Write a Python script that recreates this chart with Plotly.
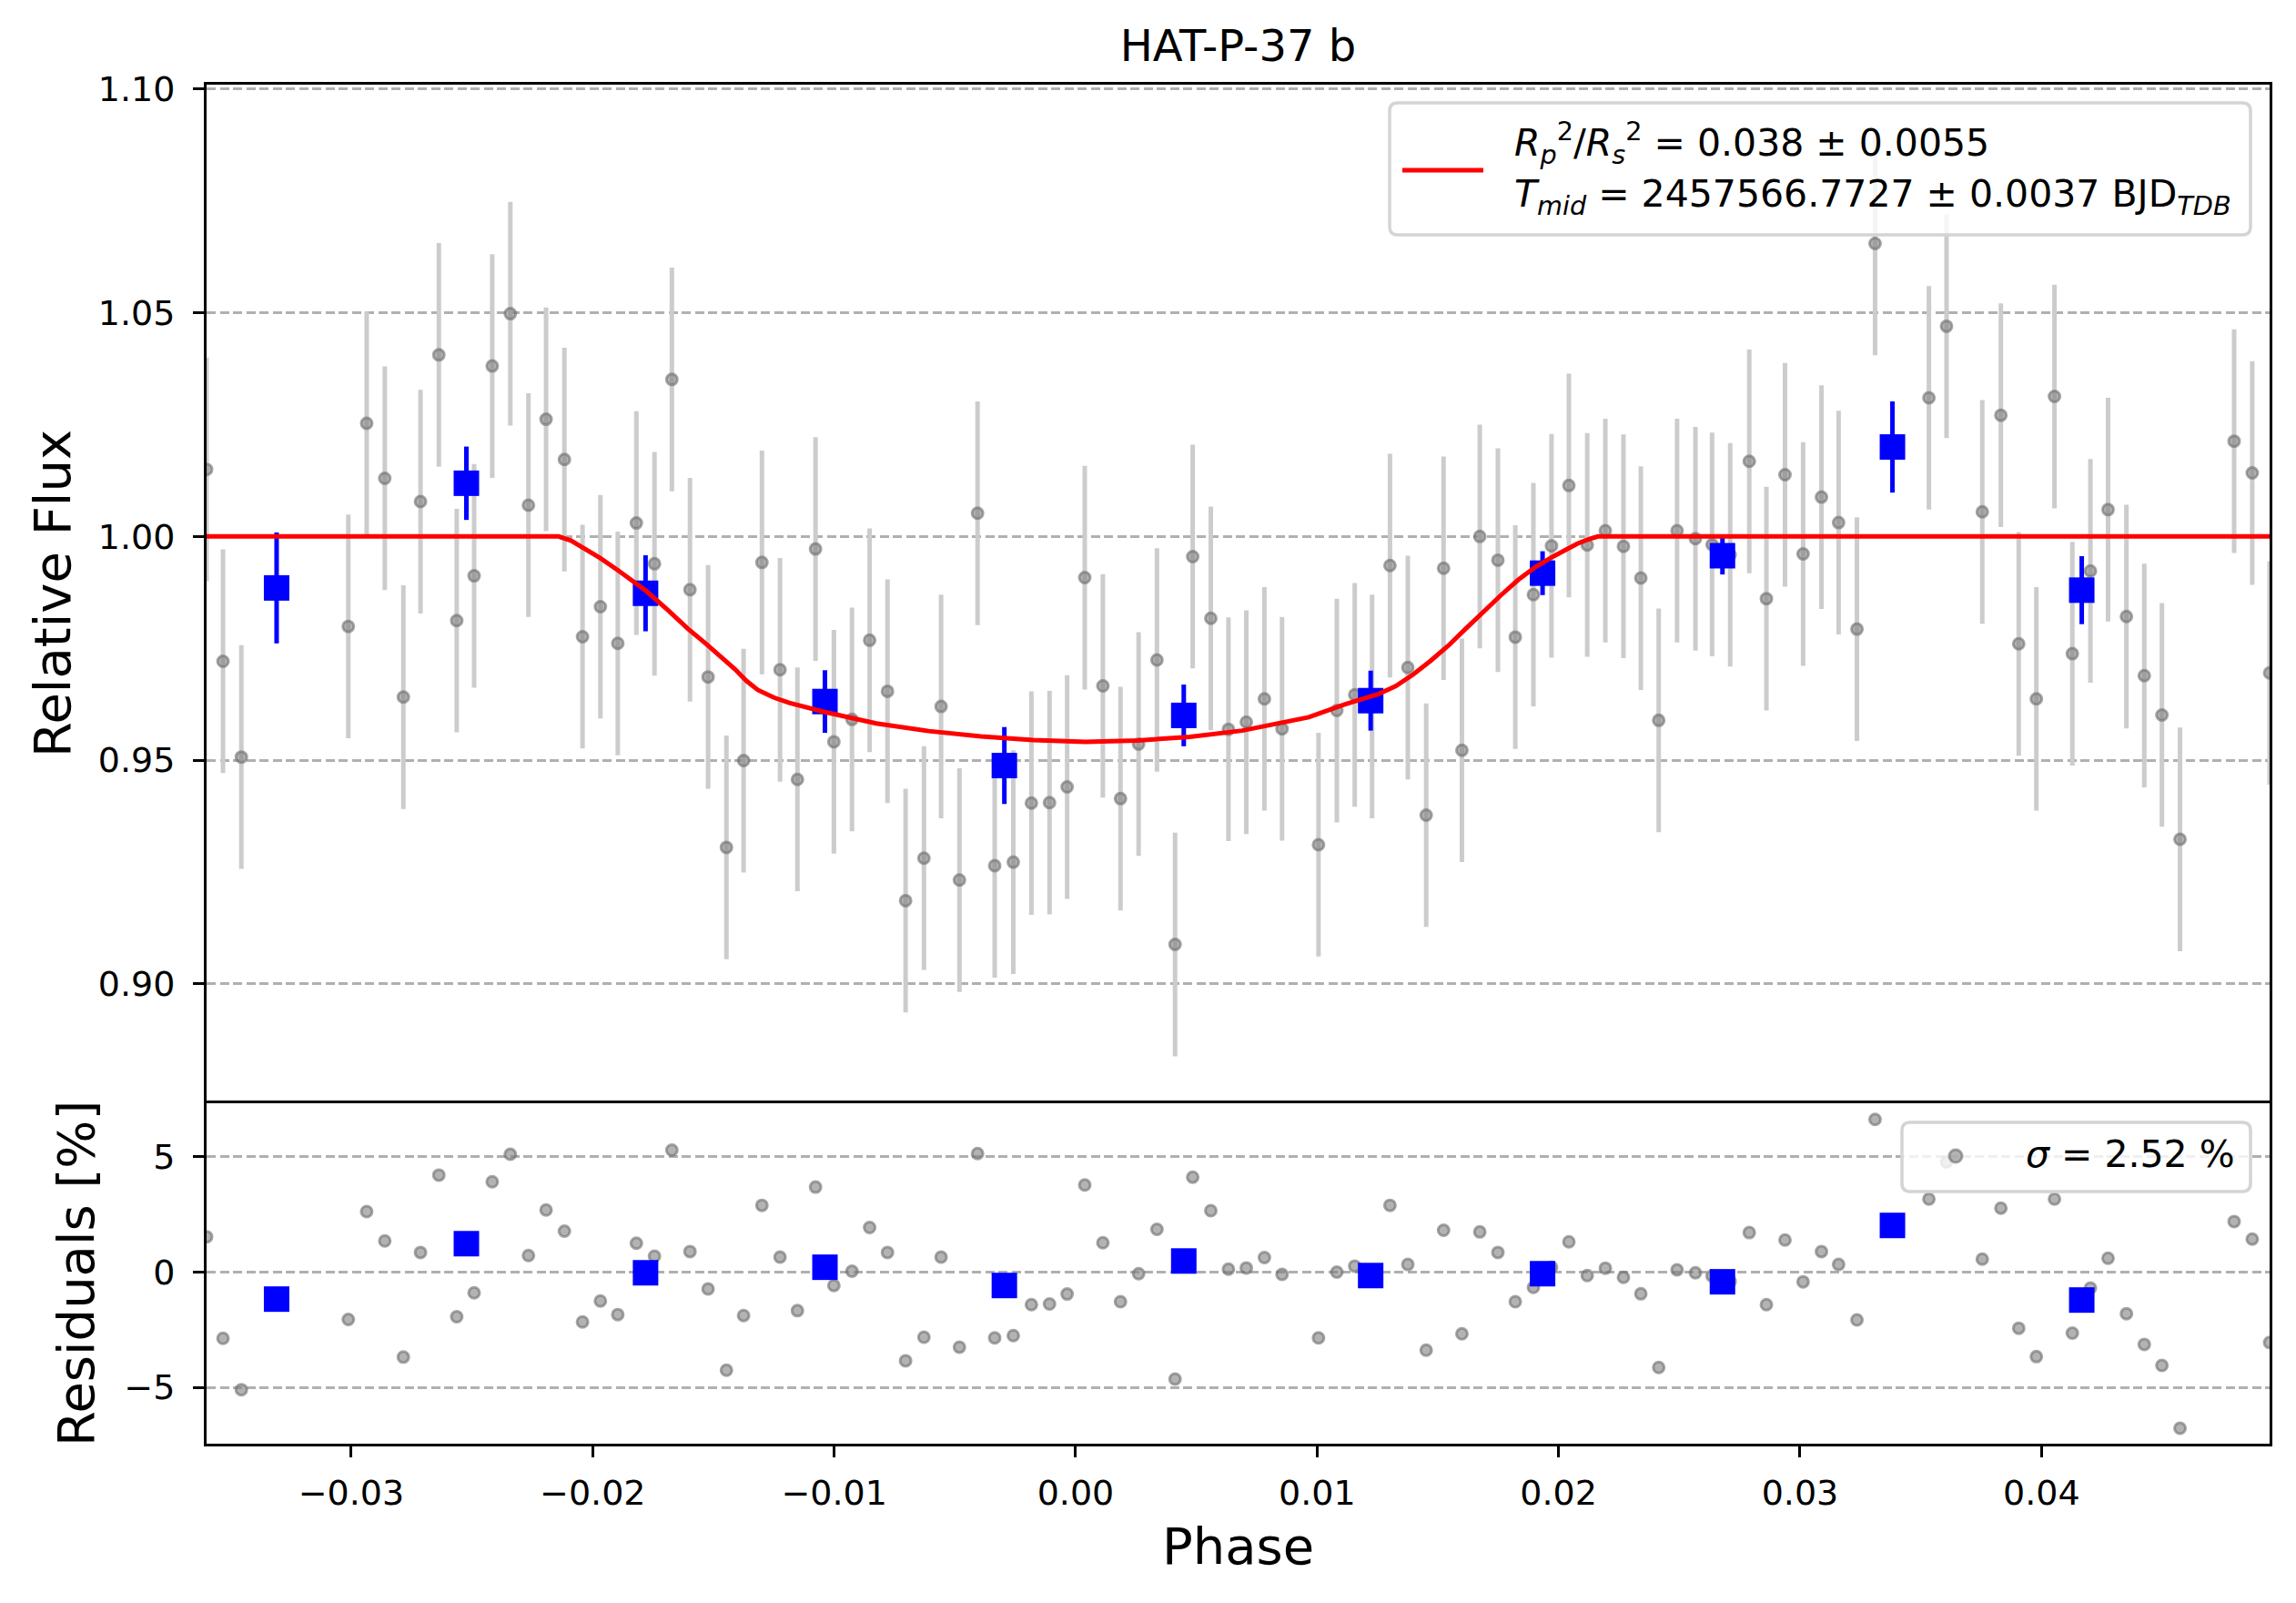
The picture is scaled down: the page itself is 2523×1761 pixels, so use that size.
import plotly.graph_objects as go

# ---- unbinned light-curve points (phase, relative flux, error, residual %) ----
phase = [-0.03599, -0.03531, -0.03455, -0.03012, -0.02936, -0.02861, -0.02784, -0.02713,
         -0.02637, -0.02563, -0.02491, -0.02416, -0.02341, -0.02266, -0.02193, -0.02117,
         -0.02042, -0.01968, -0.01896, -0.01819, -0.01744, -0.01672, -0.01597, -0.01522,
         -0.01446, -0.01375, -0.01299, -0.01224, -0.01152, -0.01077, -0.01001, -0.00926,
         -0.00853, -0.00779, -0.00704, -0.00628, -0.00557, -0.00481, -0.00406, -0.00335,
         -0.00258, -0.00183, -0.00108, -0.00035, 0.00038, 0.00113, 0.00186, 0.00261,
         0.00337, 0.00412, 0.00485, 0.00560, 0.00633, 0.00707, 0.00782, 0.00855,
         0.01006, 0.01082, 0.01156, 0.01228, 0.01302, 0.01376, 0.01452, 0.01524,
         0.01600, 0.01674, 0.01749, 0.01821, 0.01896, 0.01971, 0.02043, 0.02119,
         0.02194, 0.02269, 0.02341, 0.02415, 0.02491, 0.02567, 0.02636, 0.02711,
         0.02790, 0.02861, 0.02938, 0.03013, 0.03089, 0.03160, 0.03236, 0.03311,
         0.03534, 0.03607, 0.03755, 0.03832, 0.03906, 0.03979, 0.04054, 0.04128,
         0.04203, 0.04276, 0.04352, 0.04426, 0.04499, 0.04574, 0.04798, 0.04873,
         0.04945]

flux = [1.0150, 0.9721, 0.9507, 0.9799, 1.0253, 1.0130, 0.9641, 1.0078,
        1.0406, 0.9812, 0.9912, 1.0381, 1.0498, 1.0070, 1.0262, 1.0172,
        0.9776, 0.9843, 0.9761, 1.0030, 0.9939, 1.0351, 0.9881, 0.9686,
        0.9305, 0.9499, 0.9942, 0.9702, 0.9457, 0.9972, 0.9541, 0.9591,
        0.9768, 0.9654, 0.9186, 0.9281, 0.9620, 0.9232, 1.0052, 0.9264,
        0.9272, 0.9404, 0.9405, 0.9440, 0.9908, 0.9666, 0.9414, 0.9536,
        0.9724, 0.9088, 0.9955, 0.9817, 0.9569, 0.9585, 0.9637, 0.9570,
        0.9311, 0.9611, 0.9646, 0.9620, 0.9935, 0.9707, 0.9377, 0.9929,
        0.9522, 1.0000, 0.9947, 0.9775, 0.9870, 0.9979, 1.0114, 0.9981,
        1.0013, 0.9978, 0.9907, 0.9589, 1.0013, 0.9995, 0.9982, 0.9959,
        1.0168, 0.9861, 1.0138, 0.9961, 1.0088, 1.0031, 0.9793, 1.0655,
        1.0310, 1.0470, 1.0055, 1.0271, 0.9760, 0.9637, 1.0313, 0.9738,
        0.9923, 1.0060, 0.9821, 0.9689, 0.9601, 0.9323, 1.0213, 1.0142,
        0.9695]

flux_err = [0.025] * len(phase)

residual = [1.52, -2.88, -5.10, -2.06, 2.61, 1.34, -3.69, 0.84,
            4.19, -1.94, -0.91, 3.90, 5.09, 0.71, 2.68, 1.76,
            -2.17, -1.26, -1.85, 1.24, 0.68, 5.27, 0.88, -0.74,
            -4.26, -1.89, 2.88, 0.64, -1.68, 3.67, -0.59, 0.03,
            1.92, 0.84, -3.85, -2.83, 0.64, -3.26, 5.12, -2.86,
            -2.76, -1.42, -1.39, -0.96, 3.76, 1.26, -1.29, -0.08,
            1.84, -4.64, 4.10, 2.65, 0.12, 0.17, 0.62, -0.11,
            -2.86, -0.01, 0.25, -0.05, 2.88, 0.32, -3.39, 1.80,
            -2.68, 1.73, 0.84, -1.29, -0.67, 0.20, 1.30, -0.16,
            0.16, -0.24, -0.95, -4.14, 0.09, -0.04, -0.18, -0.41,
            1.70, -1.42, 1.38, -0.43, 0.88, 0.32, -2.08, 6.60,
            3.15, 4.76, 0.55, 2.76, -2.44, -3.67, 3.15, -2.65,
            -0.70, 0.59, -1.81, -3.14, -4.05, -6.77, 2.18, 1.42,
            -3.06]

# ---- binned points ----
bin_phase = [-0.03309, -0.02523, -0.01781, -0.01038, -0.00295, 0.00448,
             0.01222, 0.01934, 0.02679, 0.03383, 0.04167]
bin_flux = [0.9885, 1.0119, 0.9873, 0.9631, 0.9488, 0.9600,
            0.9633, 0.9918, 0.9957, 1.0200, 0.9880]
bin_err = [0.0124, 0.0082, 0.0085, 0.0070, 0.0086, 0.0069,
           0.0067, 0.0049, 0.0042, 0.0102, 0.0076]
bin_resid = [-1.18, 1.22, -0.04, 0.20, -0.59, 0.47,
             -0.16, -0.08, -0.43, 2.01, -1.22]

# ---- transit model curve ----
model_phase = [-0.03601, -0.0300, -0.0250, -0.0225, -0.02141, -0.0209, -0.0204,
               -0.01970, -0.01894, -0.01778, -0.01690, -0.01606, -0.01530, -0.01461,
               -0.01410, -0.01363, -0.01316, -0.01250, -0.01186, -0.01042, -0.00825,
               -0.00608, -0.00392, -0.00176, 0.00041, 0.00257, 0.00473, 0.00690,
               0.00860, 0.00966, 0.01111, 0.01255, 0.01327, 0.01399, 0.01470,
               0.01544, 0.01616, 0.01688, 0.01760, 0.01833, 0.01905, 0.01977,
               0.02078, 0.02125, 0.02164, 0.0230, 0.0300, 0.0400, 0.04946]
model_flux = [1.0, 1.0, 1.0, 1.0, 1.0, 0.9991, 0.9975,
              0.9952, 0.9924, 0.9878, 0.9836, 0.9794, 0.9760, 0.9729,
              0.9703, 0.9677, 0.9657, 0.9640, 0.9628, 0.9608, 0.9582,
              0.9565, 0.9553, 0.9545, 0.9541, 0.9544, 0.9552, 0.9566,
              0.9583, 0.9596, 0.9624, 0.9648, 0.9666, 0.9692, 0.9722,
              0.9756, 0.9794, 0.9832, 0.9868, 0.9903, 0.9932, 0.9955,
              0.9984, 0.9994, 1.0, 1.0, 1.0, 1.0, 1.0]

x_ticks = [-0.03, -0.02, -0.01, 0.00, 0.01, 0.02, 0.03, 0.04]
flux_ticks = [0.90, 0.95, 1.00, 1.05, 1.10]
resid_ticks = [-5, 0, 5]

title_text = "HAT-P-37 b"
legend_line1 = ("<i>R</i><sub><i>p</i></sub><sup>2</sup>/<i>R</i><sub><i>s</i></sub><sup>2</sup>"
                " = 0.038 ± 0.0055")
legend_line2 = "<i>T</i><sub><i>mid</i></sub> = 2457566.7727 ± 0.0037 BJD<sub><i>TDB</i></sub>"
resid_label = "<i>σ</i> = 2.52 %"

FONT = "DejaVu Sans"
OFF = 8                      # default body margin of the html page
W, H = 2507, 1745
# plot area in page pixels
PL, PR, PT, PB = 227, 2494, 93, 1586
L, R, T, B = PL - OFF, OFF + W - PR, PT - OFF, OFF + H - PB
PW, PH = PR - PL, PB - PT
split = (PB - 1212) / PH


def px(X):
    return (X - PL) / PW


def py(Y):
    return (PB - Y) / PH


def round_box(x0, y0, x1, y1, r=9):
    """rounded rectangle path in paper coords from page pixel box"""
    rx, ry = r / PW, r / PH
    a, b, c, d = px(x0), py(y1), px(x1), py(y0)  # left, bottom, right, top
    return (f"M{a+rx},{b} L{c-rx},{b} Q{c},{b} {c},{b+ry} L{c},{d-ry} Q{c},{d} {c-rx},{d} "
            f"L{a+rx},{d} Q{a},{d} {a},{d-ry} L{a},{b+ry} Q{a},{b} {a+rx},{b} Z")


gray_fill = "rgba(128,128,128,0.6)"
gray_edge = "rgba(110,110,110,0.6)"

fig = go.Figure()

# top panel: unbinned points with error bars
fig.add_trace(go.Scatter(
    x=phase, y=flux, mode="markers", xaxis="x", yaxis="y", showlegend=False,
    marker=dict(size=12, color=gray_fill, line=dict(color=gray_edge, width=3)),
    error_y=dict(type="data", array=flux_err, color="#cccccc", thickness=5, width=0),
))
# binned points
fig.add_trace(go.Scatter(
    x=bin_phase, y=bin_flux, mode="markers", xaxis="x", yaxis="y", showlegend=False,
    marker=dict(size=28, symbol="square", color="#0000ff", line=dict(width=0)),
    error_y=dict(type="data", array=bin_err, color="#0000ff", thickness=5, width=0),
))
# model
fig.add_trace(go.Scatter(
    x=model_phase, y=model_flux, mode="lines", xaxis="x", yaxis="y", showlegend=False,
    line=dict(color="#ff0000", width=5),
))

# residual panel
fig.add_trace(go.Scatter(
    x=phase, y=residual, mode="markers", xaxis="x2", yaxis="y2", showlegend=False,
    marker=dict(size=12, color=gray_fill, line=dict(color=gray_edge, width=3)),
))
fig.add_trace(go.Scatter(
    x=bin_phase, y=bin_resid, mode="markers", xaxis="x2", yaxis="y2", showlegend=False,
    marker=dict(size=28, symbol="square", color="#0000ff", line=dict(width=0)),
))

xr = [min(phase), max(phase)]
axis_common = dict(showline=True, linecolor="black", linewidth=3, zeroline=False,
                   tickfont=dict(family=FONT, size=38, color="black"))
grid_common = dict(showgrid=True, gridcolor="#b0b0b0", gridwidth=2.8, griddash="10px,4.5px")

box_style = dict(type="path", xref="paper", yref="paper", layer="above",
                 fillcolor="rgba(255,255,255,0.8)", line=dict(color="#d4d4d4", width=3.5))

shapes = [
    dict(path=round_box(1527, 113, 2473, 258), **box_style),
    dict(type="line", xref="paper", yref="paper", layer="above",
         x0=px(1541), x1=px(1630), y0=py(187), y1=py(187),
         line=dict(color="#ff0000", width=5)),
    dict(path=round_box(2090, 1233, 2473, 1309), **box_style),
    dict(type="circle", xref="paper", yref="paper", layer="above",
         x0=px(2149 - 7), x1=px(2149 + 7), y0=py(1270 + 7), y1=py(1270 - 7),
         fillcolor=gray_fill, line=dict(color=gray_edge, width=3)),
]

annotations = [
    dict(text="Relative Flux", xref="paper", yref="paper",
         x=px(57), y=py(652), textangle=-90, showarrow=False,
         xanchor="center", yanchor="middle",
         font=dict(family=FONT, size=56, color="black")),
    dict(text="Residuals [%]", xref="paper", yref="paper",
         x=px(83), y=py(1399), textangle=-90, showarrow=False,
         xanchor="center", yanchor="middle",
         font=dict(family=FONT, size=56, color="black")),
    dict(text="Phase", xref="paper", yref="paper",
         x=0.5, y=py(1698), showarrow=False, xanchor="center", yanchor="middle",
         font=dict(family=FONT, size=56, color="black")),
    dict(text=legend_line1, xref="paper", yref="paper",
         x=px(1662), y=py(157), showarrow=False, xanchor="left", yanchor="middle",
         font=dict(family=FONT, size=41, color="black")),
    dict(text=legend_line2, xref="paper", yref="paper",
         x=px(1662), y=py(216), showarrow=False, xanchor="left", yanchor="middle",
         font=dict(family=FONT, size=41, color="black")),
    dict(text=resid_label, xref="paper", yref="paper",
         x=px(2458), y=py(1268), showarrow=False, xanchor="right", yanchor="middle",
         font=dict(family=FONT, size=41, color="black")),
]

fig.update_layout(
    width=W, height=H,
    margin=dict(l=L, r=R, t=T, b=B),
    paper_bgcolor="white", plot_bgcolor="white",
    font=dict(family=FONT, color="black"),
    showlegend=False,
    title=dict(text=title_text, font=dict(family=FONT, size=48, color="black"),
               x=0.5, xref="paper", xanchor="center",
               y=1 - (50 - OFF) / H, yref="container", yanchor="middle"),
    xaxis=dict(domain=[0, 1], anchor="y", range=xr, side="top", mirror=False,
               ticks="", showticklabels=False, showgrid=False, matches="x2",
               **axis_common),
    xaxis2=dict(domain=[0, 1], anchor="y2", range=xr, mirror=True,
                ticks="outside", ticklen=12, tickwidth=3, tickcolor="black",
                tickvals=x_ticks, tickformat=".2f", ticklabelstandoff=6,
                showgrid=False, **axis_common),
    yaxis=dict(domain=[split, 1], anchor="x", range=[0.8733, 1.101], mirror=True,
               ticks="outside", ticklen=12, tickwidth=3, tickcolor="black",
               tickvals=flux_ticks, tickformat=".2f", ticklabelstandoff=12,
               **grid_common, **axis_common),
    yaxis2=dict(domain=[0, split], anchor="x2", range=[-7.44, 7.30], mirror=True,
                ticks="outside", ticklen=12, tickwidth=3, tickcolor="black",
                tickvals=resid_ticks, ticklabelstandoff=12,
                **grid_common, **axis_common),
    shapes=shapes,
    annotations=annotations,
)

fig.write_html("out.html")
